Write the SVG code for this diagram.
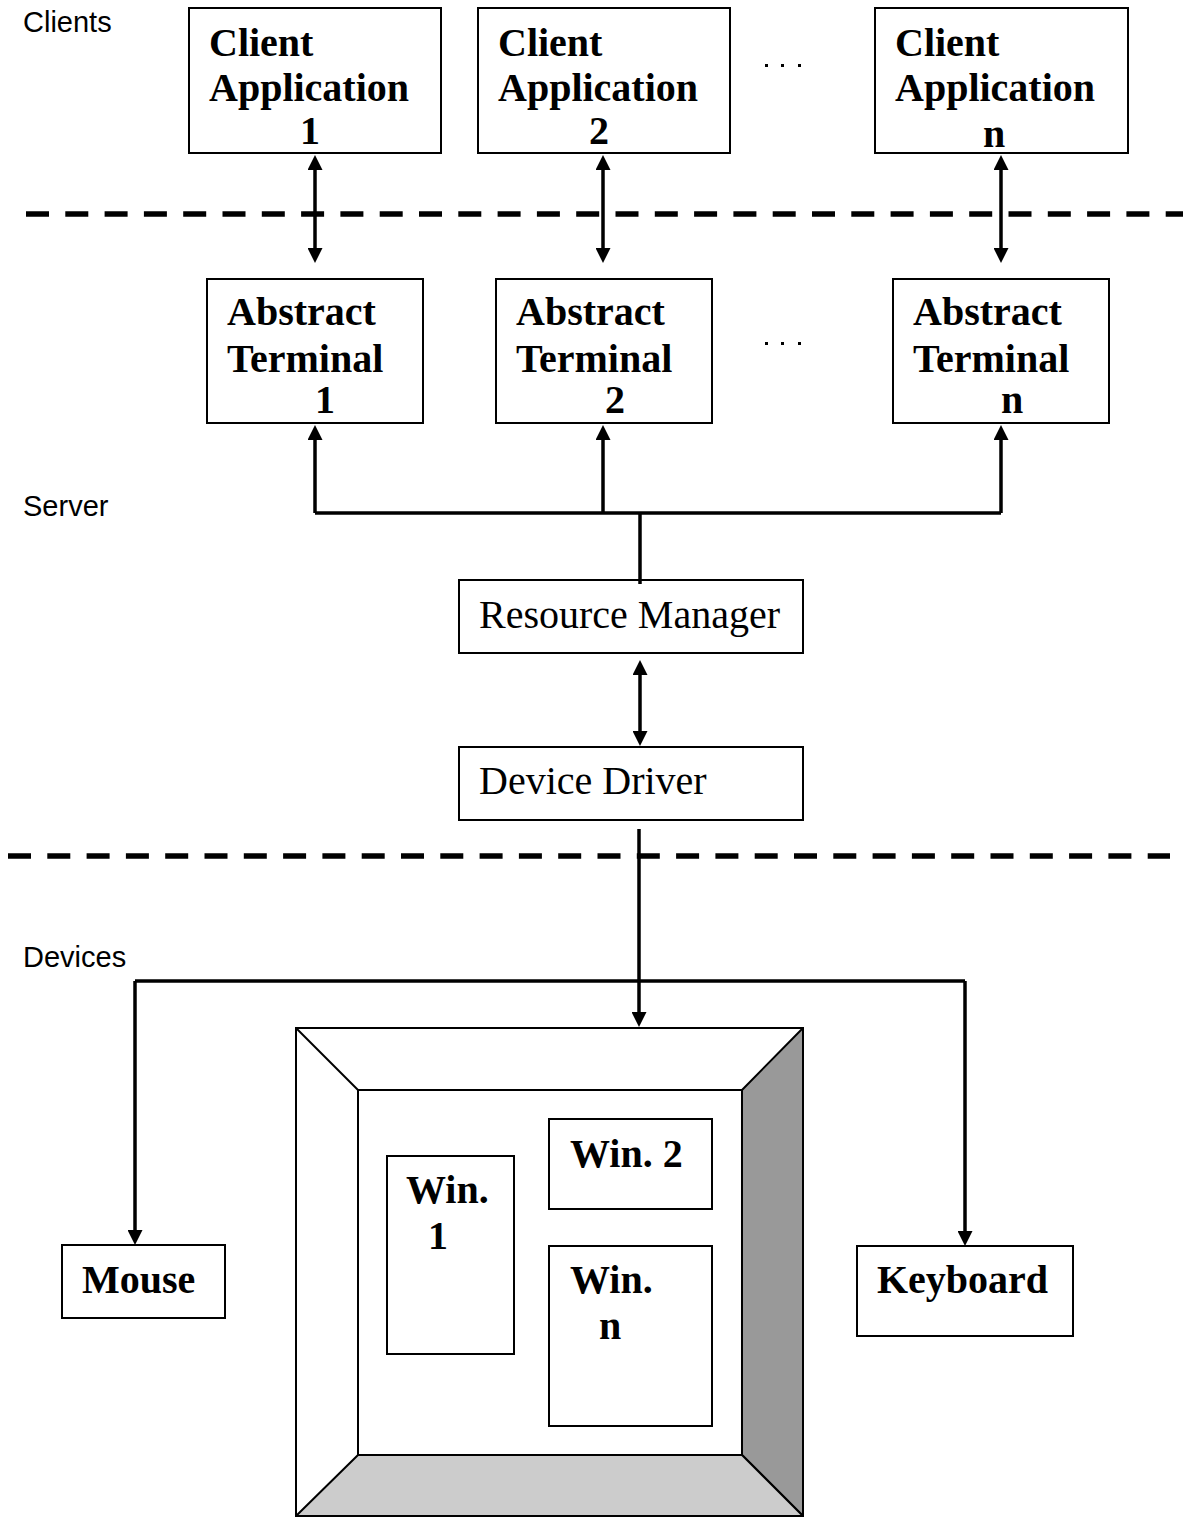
<svg xmlns="http://www.w3.org/2000/svg" width="1183" height="1518" viewBox="0 0 1183 1518">
  <style>
    .box { fill: #fff; stroke: #000; stroke-width: 2; }
    .bold { font-family: "Liberation Serif", "Times New Roman", serif; font-weight: bold; font-size: 40px; fill: #000; }
    .reg { font-family: "Liberation Serif", "Times New Roman", serif; font-size: 40px; fill: #000; }
    .tier { font-family: "Liberation Sans", Arial, sans-serif; font-size: 29px; fill: #000; }
    .wire { fill: none; stroke: #000; stroke-width: 3.5; }
    .dash { fill: none; stroke: #000; stroke-width: 5.5; stroke-dasharray: 23 16.3; }
    .edge { fill: none; stroke: #000; stroke-width: 2; }
  </style>
  <defs>
    <marker id="ah" viewBox="0 0 15 15" refX="10" refY="7.5" markerWidth="15" markerHeight="15" markerUnits="userSpaceOnUse" orient="auto-start-reverse">
      <path d="M0,0 L15,7.5 L0,15 z" fill="#000"/>
    </marker>
  </defs>
  <rect width="1183" height="1518" fill="#fff"/>

  <!-- tier labels -->
  <text class="tier" x="23" y="32">Clients</text>
  <text class="tier" x="23" y="516">Server</text>
  <text class="tier" x="23" y="967">Devices</text>

  <!-- tier separators -->
  <line class="dash" x1="26" y1="214" x2="1183" y2="214"/>
  <line class="dash" x1="8" y1="856" x2="1170" y2="856"/>

  <!-- ellipses between columns -->
  <g fill="#000">
    <rect x="765" y="64" width="3" height="3"/>
    <rect x="781" y="64" width="3" height="3"/>
    <rect x="798" y="64" width="3" height="3"/>
    <rect x="765" y="342" width="3" height="3"/>
    <rect x="781" y="342" width="3" height="3"/>
    <rect x="798" y="342" width="3" height="3"/>
  </g>

  <!-- client applications -->
  <g id="client-app-1">
    <rect class="box" x="189" y="8" width="252" height="145"/>
    <text class="bold" x="209" y="56">Client</text>
    <text class="bold" x="209" y="101">Application</text>
    <text class="bold" x="300" y="144">1</text>
  </g>
  <g id="client-app-2">
    <rect class="box" x="478" y="8" width="252" height="145"/>
    <text class="bold" x="498" y="56">Client</text>
    <text class="bold" x="498" y="101">Application</text>
    <text class="bold" x="589" y="144">2</text>
  </g>
  <g id="client-app-n">
    <rect class="box" x="875" y="8" width="253" height="145"/>
    <text class="bold" x="895" y="56">Client</text>
    <text class="bold" x="895" y="101">Application</text>
    <text class="bold" x="983" y="147">n</text>
  </g>

  <!-- abstract terminals -->
  <g id="abstract-terminal-1">
    <rect class="box" x="207" y="279" width="216" height="144"/>
    <text class="bold" x="227" y="325">Abstract</text>
    <text class="bold" x="227" y="372">Terminal</text>
    <text class="bold" x="315" y="413">1</text>
  </g>
  <g id="abstract-terminal-2">
    <rect class="box" x="496" y="279" width="216" height="144"/>
    <text class="bold" x="516" y="325">Abstract</text>
    <text class="bold" x="516" y="372">Terminal</text>
    <text class="bold" x="605" y="413">2</text>
  </g>
  <g id="abstract-terminal-n">
    <rect class="box" x="893" y="279" width="216" height="144"/>
    <text class="bold" x="913" y="325">Abstract</text>
    <text class="bold" x="913" y="372">Terminal</text>
    <text class="bold" x="1001" y="413">n</text>
  </g>

  <!-- server components -->
  <g id="resource-manager">
    <rect class="box" x="459" y="580" width="344" height="73"/>
    <text class="reg" x="479" y="628">Resource Manager</text>
  </g>
  <g id="device-driver">
    <rect class="box" x="459" y="747" width="344" height="73"/>
    <text class="reg" x="479" y="794">Device Driver</text>
  </g>

  <!-- input devices -->
  <g id="mouse">
    <rect class="box" x="62" y="1245" width="163" height="73"/>
    <text class="bold" x="82" y="1293">Mouse</text>
  </g>
  <g id="keyboard">
    <rect class="box" x="857" y="1246" width="216" height="90"/>
    <text class="bold" x="877" y="1293">Keyboard</text>
  </g>

  <!-- display with bevelled frame and windows -->
  <g id="display">
    <rect class="box" x="296" y="1028" width="507" height="488"/>
    <polygon points="803,1028 742,1090 742,1455 803,1516" fill="#999" stroke="#000" stroke-width="2" stroke-linejoin="round"/>
    <polygon points="358,1455 742,1455 803,1516 296,1516" fill="#ccc" stroke="#000" stroke-width="2" stroke-linejoin="round"/>
    <line class="edge" x1="296" y1="1028" x2="358" y2="1090"/>
    <rect class="box" x="358" y="1090" width="384" height="365"/>
    <g id="win-1">
      <rect class="box" x="387" y="1156" width="127" height="198"/>
      <text class="bold" x="406" y="1203">Win.</text>
      <text class="bold" x="428" y="1249">1</text>
    </g>
    <g id="win-2">
      <rect class="box" x="549" y="1119" width="163" height="90"/>
      <text class="bold" x="570" y="1167">Win. 2</text>
    </g>
    <g id="win-n">
      <rect class="box" x="549" y="1246" width="163" height="180"/>
      <text class="bold" x="570" y="1293">Win.</text>
      <text class="bold" x="599" y="1339">n</text>
    </g>
  </g>

  <!-- connectors -->
  <g id="connectors">
    <path class="wire" d="M315,160 L315,258" marker-start="url(#ah)" marker-end="url(#ah)"/>
    <path class="wire" d="M603,160 L603,258" marker-start="url(#ah)" marker-end="url(#ah)"/>
    <path class="wire" d="M1001,160 L1001,258" marker-start="url(#ah)" marker-end="url(#ah)"/>

    <path class="wire" d="M315,513 L1001,513"/>
    <path class="wire" d="M315,513 L315,430" marker-end="url(#ah)"/>
    <path class="wire" d="M603,513 L603,430" marker-end="url(#ah)"/>
    <path class="wire" d="M1001,513 L1001,430" marker-end="url(#ah)"/>
    <path class="wire" d="M640,513 L640,584"/>

    <path class="wire" d="M640,665 L640,741" marker-start="url(#ah)" marker-end="url(#ah)"/>

    <path class="wire" d="M639,829 L639,1022" marker-end="url(#ah)"/>

    <path class="wire" d="M135,981 L965,981"/>
    <path class="wire" d="M135,981 L135,1240" marker-end="url(#ah)"/>
    <path class="wire" d="M965,981 L965,1241" marker-end="url(#ah)"/>
  </g>
</svg>
